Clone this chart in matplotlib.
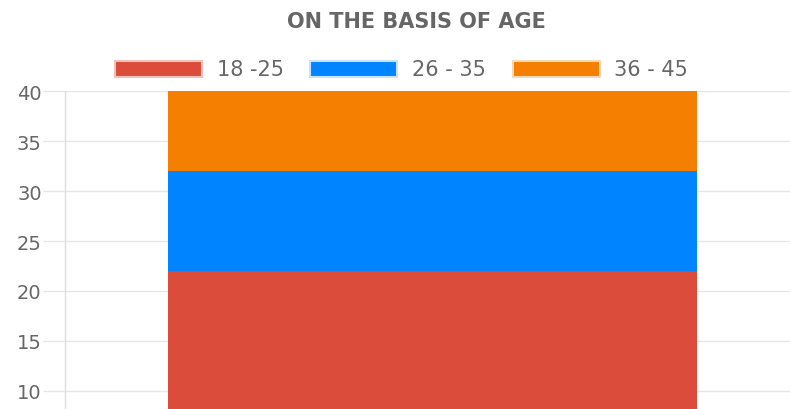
import matplotlib
matplotlib.use("Agg")
import matplotlib.pyplot as plt
from matplotlib.patches import Rectangle

# Data
title = "ON THE BASIS OF AGE"
category = [""]
age_groups = ["18 -25", "26 - 35", "36 - 45"]
counts = [22, 10, 8]
colors = ["#DC4C3A", "#0084FF", "#F57F00"]
edge_colors = ["#F0C2BB", "#C7E2FF", "#F9D9B5"]
y_ticks = [10, 15, 20, 25, 30, 35, 40]

W, H = 790, 410
fig = plt.figure(figsize=(W / 100, H / 100), dpi=100)
fig.patch.set_facecolor("white")

# Plot area: y-axis at x=65px, top (40) at y=92px, 10 px per unit
left_px, right_px, top_px = 65, 800, 92
ax = fig.add_axes([left_px / W, 0, (right_px - left_px) / W, (H - top_px) / H])
ymax = 40
ymin = ymax - (H - top_px) / 10.0
ax.set_ylim(ymin, ymax)
ax.set_xlim(-0.5, 0.5)

bottom = 0
for lab, val, col in zip(age_groups, counts, colors):
    ax.bar(0, val, width=0.72, bottom=bottom, color=col, linewidth=0, zorder=3)
    bottom += val

grid_col = "#E6E6E6"
font = ["DejaVu Sans"]
ax.set_yticks(y_ticks)
ax.set_yticklabels([str(t) for t in y_ticks], fontsize=14, color="#666666",
                   family=font)
ax.tick_params(axis="y", length=15.8, width=1, color=grid_col, pad=1)
ax.set_xticks([])
ax.grid(axis="y", color=grid_col, linewidth=1, zorder=0)
for s in ["top", "right", "bottom"]:
    ax.spines[s].set_visible(False)
ax.spines["left"].set_color("#DDDDDD")
ax.spines["left"].set_linewidth(1)

# Title
fig.text(416 / W, 1 - 22 / H, title, ha="center", va="center", fontsize=15,
         fontweight="bold", color="#666666", family=font)

# Legend drawn in pixel positions
box_x = [115, 310, 513]
text_x = [217, 412, 614]
box_w, box_h, box_top = 87, 16, 62
for bx, tx, lab, col, ec in zip(box_x, text_x, age_groups, colors, edge_colors):
    fig.add_artist(Rectangle((bx / W, 1 - (box_top + box_h) / H), box_w / W, box_h / H,
                             transform=fig.transFigure, facecolor=col, edgecolor=ec,
                             linewidth=1.5))
    fig.text(tx / W, 1 - (box_top + box_h / 2) / H, lab, ha="left", va="center",
             fontsize=15, color="#666666", family=font)

fig.savefig("out.png", dpi=100, facecolor="white")
